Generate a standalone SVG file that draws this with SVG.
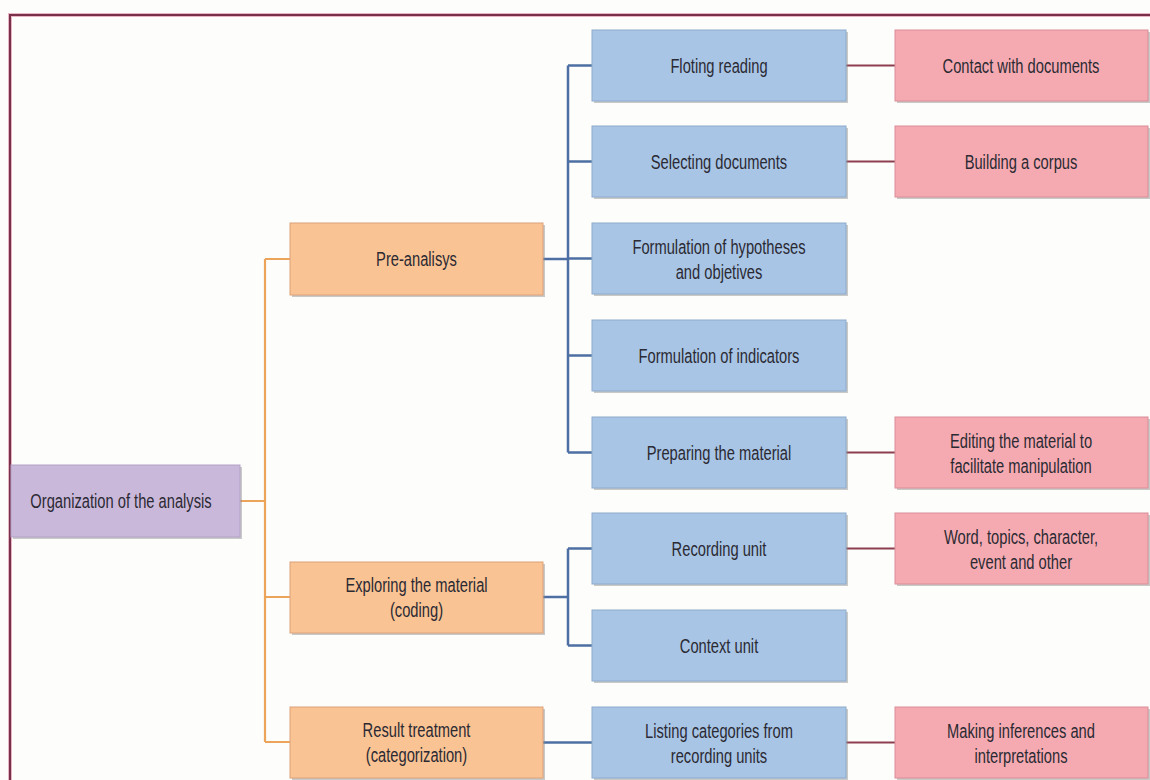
<svg xmlns="http://www.w3.org/2000/svg" width="1150" height="780" viewBox="0 0 1150 780">
  <style>
    .t{font-family:"Liberation Sans",Arial,Helvetica,sans-serif;font-size:20px;fill:#2b2a33;text-anchor:middle}
    .sh{fill:#8a8a8a;opacity:0.45}
    .root{fill:#cab8db;stroke:#b3a1c6;stroke-width:1}
    .or{fill:#f9c393;stroke:#dca27a;stroke-width:1}
    .bl{fill:#a8c5e6;stroke:#8eabcc;stroke-width:1}
    .pk{fill:#f5aab2;stroke:#d98e98;stroke-width:1}
    .co{stroke:#eba45a;stroke-width:2.2;fill:none}
    .cb{stroke:#4d6fa3;stroke-width:2.5;fill:none}
    .cr{stroke:#8e3f4f;stroke-width:2.2;fill:none}
  </style>
  <rect width="1150" height="780" fill="#fdfdfb"/>
  <!-- frame -->
  <path d="M10,780 V15 H1150" fill="none" stroke="#e7b7c4" stroke-width="4"/>
  <path d="M10,780 V15 H1150" fill="none" stroke="#7a2f4a" stroke-width="2"/>

  <g id="connectors">
    <path class="co" d="M240,501 H265 M265,259 V742 M265,259 H290 M265,597 H290 M265,742 H290"/>
    <path class="cb" d="M543,259 H568 M568,65.5 V452.5 M568,65.5 H592 M568,161.5 H592 M568,258.5 H592 M568,355.5 H592 M568,452.5 H592"/>
    <path class="cb" d="M543,597 H568 M568,548.5 V645.5 M568,548.5 H592 M568,645.5 H592"/>
    <path class="cb" d="M543,742.5 H592"/>
    <path class="cr" d="M846,65.5 H895 M846,161.5 H895 M846,452.5 H895 M846,548.5 H895 M846,742.5 H895"/>
  </g>

  <g id="n-root">
    <rect class="sh" x="13" y="467" width="229" height="72"/>
    <rect class="root" x="11" y="465" width="229" height="72"/>
    <text class="t" transform="translate(121,508) scale(0.735,1)">Organization of the analysis</text>
  </g>

  <g id="n-pre">
    <rect class="sh" x="292" y="225" width="253" height="72"/>
    <rect class="or" x="290" y="223" width="253" height="72"/>
    <text class="t" transform="translate(416.5,266) scale(0.735,1)">Pre-analisys</text>
  </g>
  <g id="n-explore">
    <rect class="sh" x="292" y="564" width="253" height="71"/>
    <rect class="or" x="290" y="562" width="253" height="71"/>
    <text class="t" transform="translate(416.5,592) scale(0.735,1)">Exploring the material<tspan x="0" dy="25">(coding)</tspan></text>
  </g>
  <g id="n-result">
    <rect class="sh" x="292" y="709" width="253" height="71"/>
    <rect class="or" x="290" y="707" width="253" height="71"/>
    <text class="t" transform="translate(416.5,737) scale(0.735,1)">Result treatment<tspan x="0" dy="25">(categorization)</tspan></text>
  </g>

  <g id="n-floting">
    <rect class="sh" x="594" y="32" width="254" height="71"/>
    <rect class="bl" x="592" y="30" width="254" height="71"/>
    <text class="t" transform="translate(719,72.5) scale(0.735,1)">Floting reading</text>
  </g>
  <g id="n-selecting">
    <rect class="sh" x="594" y="128" width="254" height="71"/>
    <rect class="bl" x="592" y="126" width="254" height="71"/>
    <text class="t" transform="translate(719,168.5) scale(0.735,1)">Selecting documents</text>
  </g>
  <g id="n-hypotheses">
    <rect class="sh" x="594" y="225" width="254" height="71"/>
    <rect class="bl" x="592" y="223" width="254" height="71"/>
    <text class="t" transform="translate(719,254) scale(0.735,1)">Formulation of hypotheses<tspan x="0" dy="25">and objetives</tspan></text>
  </g>
  <g id="n-indicators">
    <rect class="sh" x="594" y="322" width="254" height="71"/>
    <rect class="bl" x="592" y="320" width="254" height="71"/>
    <text class="t" transform="translate(719,362.5) scale(0.735,1)">Formulation of indicators</text>
  </g>
  <g id="n-preparing">
    <rect class="sh" x="594" y="419" width="254" height="71"/>
    <rect class="bl" x="592" y="417" width="254" height="71"/>
    <text class="t" transform="translate(719,459.5) scale(0.735,1)">Preparing the material</text>
  </g>
  <g id="n-recording">
    <rect class="sh" x="594" y="515" width="254" height="71"/>
    <rect class="bl" x="592" y="513" width="254" height="71"/>
    <text class="t" transform="translate(719,555.5) scale(0.735,1)">Recording unit</text>
  </g>
  <g id="n-context">
    <rect class="sh" x="594" y="612" width="254" height="71"/>
    <rect class="bl" x="592" y="610" width="254" height="71"/>
    <text class="t" transform="translate(719,652.5) scale(0.735,1)">Context unit</text>
  </g>
  <g id="n-listing">
    <rect class="sh" x="594" y="709" width="254" height="71"/>
    <rect class="bl" x="592" y="707" width="254" height="71"/>
    <text class="t" transform="translate(719,738) scale(0.735,1)">Listing categories from<tspan x="0" dy="25">recording units</tspan></text>
  </g>

  <g id="n-contact">
    <rect class="sh" x="897" y="32" width="253" height="71"/>
    <rect class="pk" x="895" y="30" width="253" height="71"/>
    <text class="t" transform="translate(1021,72.5) scale(0.735,1)">Contact with documents</text>
  </g>
  <g id="n-corpus">
    <rect class="sh" x="897" y="128" width="253" height="71"/>
    <rect class="pk" x="895" y="126" width="253" height="71"/>
    <text class="t" transform="translate(1021,168.5) scale(0.735,1)">Building a corpus</text>
  </g>
  <g id="n-editing">
    <rect class="sh" x="897" y="419" width="253" height="71"/>
    <rect class="pk" x="895" y="417" width="253" height="71"/>
    <text class="t" transform="translate(1021,448) scale(0.735,1)">Editing the material to<tspan x="0" dy="25">facilitate manipulation</tspan></text>
  </g>
  <g id="n-word">
    <rect class="sh" x="897" y="515" width="253" height="71"/>
    <rect class="pk" x="895" y="513" width="253" height="71"/>
    <text class="t" transform="translate(1021,544) scale(0.735,1)">Word, topics, character,<tspan x="0" dy="25">event and other</tspan></text>
  </g>
  <g id="n-inferences">
    <rect class="sh" x="897" y="709" width="253" height="71"/>
    <rect class="pk" x="895" y="707" width="253" height="71"/>
    <text class="t" transform="translate(1021,738) scale(0.735,1)">Making inferences and<tspan x="0" dy="25">interpretations</tspan></text>
  </g>
</svg>
